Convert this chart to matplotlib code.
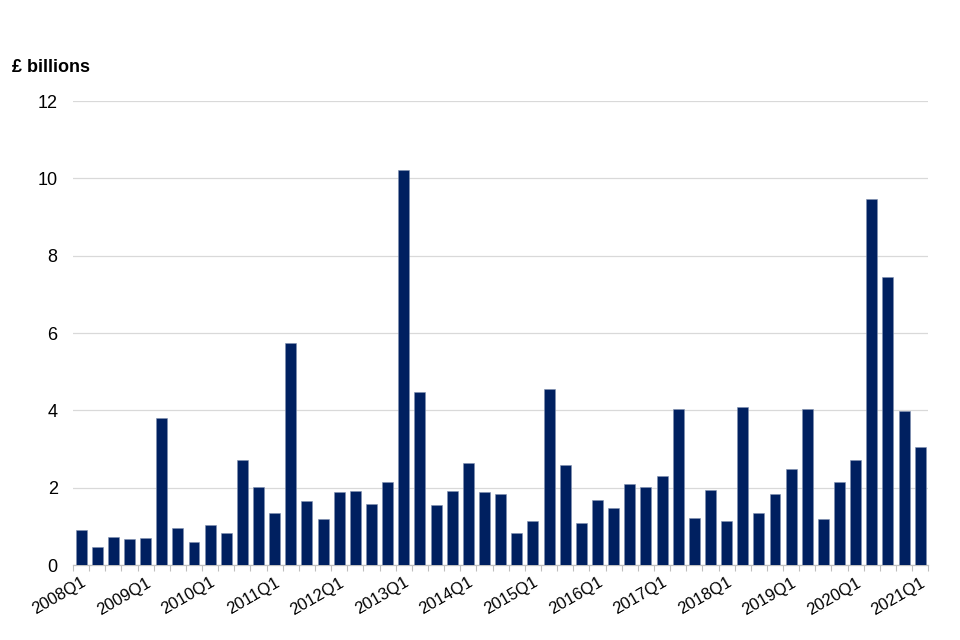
import matplotlib
matplotlib.use("Agg")
import matplotlib.pyplot as plt
import numpy as np

years = list(range(2008, 2022))
quarters = [f"{y}Q{q}" for y in years for q in range(1, 5)][:53]
values = [0.92, 0.47, 0.73, 0.68, 0.69, 3.81, 0.95, 0.61, 1.05, 0.84,
          2.72, 2.03, 1.36, 5.74, 1.67, 1.18, 1.89, 1.91, 1.58, 2.16,
          10.22, 4.49, 1.55, 1.91, 2.63, 1.89, 1.83, 0.82, 1.13, 4.55,
          2.58, 1.09, 1.68, 1.48, 2.10, 2.01, 2.30, 4.04, 1.21, 1.93,
          1.14, 4.08, 1.36, 1.84, 2.48, 4.05, 1.20, 2.14, 2.73, 9.46,
          7.46, 3.99, 3.05]
yticks = [0, 2, 4, 6, 8, 10, 12]

plt.rcParams['font.family'] = ['Liberation Sans', 'DejaVu Sans']
fig = plt.figure(figsize=(9.6, 6.4), dpi=100)
ax = fig.add_axes([0.076, 0.117, 0.891, 0.725])

x = np.arange(len(values))
ax.bar(x, values, width=0.68, color='#002060', edgecolor='#8090b0', linewidth=0.4, zorder=3)

ax.set_xlim(-0.5, len(values) - 0.5)
ax.set_ylim(0, 12)
ax.set_yticks(yticks)
ax.set_yticklabels([str(v) for v in yticks], fontsize=13)
ax.tick_params(axis='y', length=0, pad=11)
ax.grid(axis='y', color='#d9d9d9', linewidth=0.9, zorder=0)

q1_idx = [i for i, q in enumerate(quarters) if q.endswith('Q1')]
ax.set_xticks(q1_idx)
ax.set_xticklabels([quarters[i] for i in q1_idx], rotation=30, ha='right',
                   rotation_mode='anchor', fontsize=12)
ax.tick_params(axis='x', which='major', length=0, pad=7)
ax.set_xticks(np.arange(-0.5, len(values), 1.0), minor=True)
ax.tick_params(axis='x', which='minor', length=4, color='#bfbfbf', width=0.8)

for s in ['top', 'right', 'left']:
    ax.spines[s].set_visible(False)
ax.spines['bottom'].set_color('#bfbfbf')
ax.spines['bottom'].set_linewidth(0.9)

fig.text(12 / 960, 1 - 68 / 640, '£ billions', fontsize=13, fontweight='bold', va='center', ha='left')

fig.savefig('out.png', dpi=100)
